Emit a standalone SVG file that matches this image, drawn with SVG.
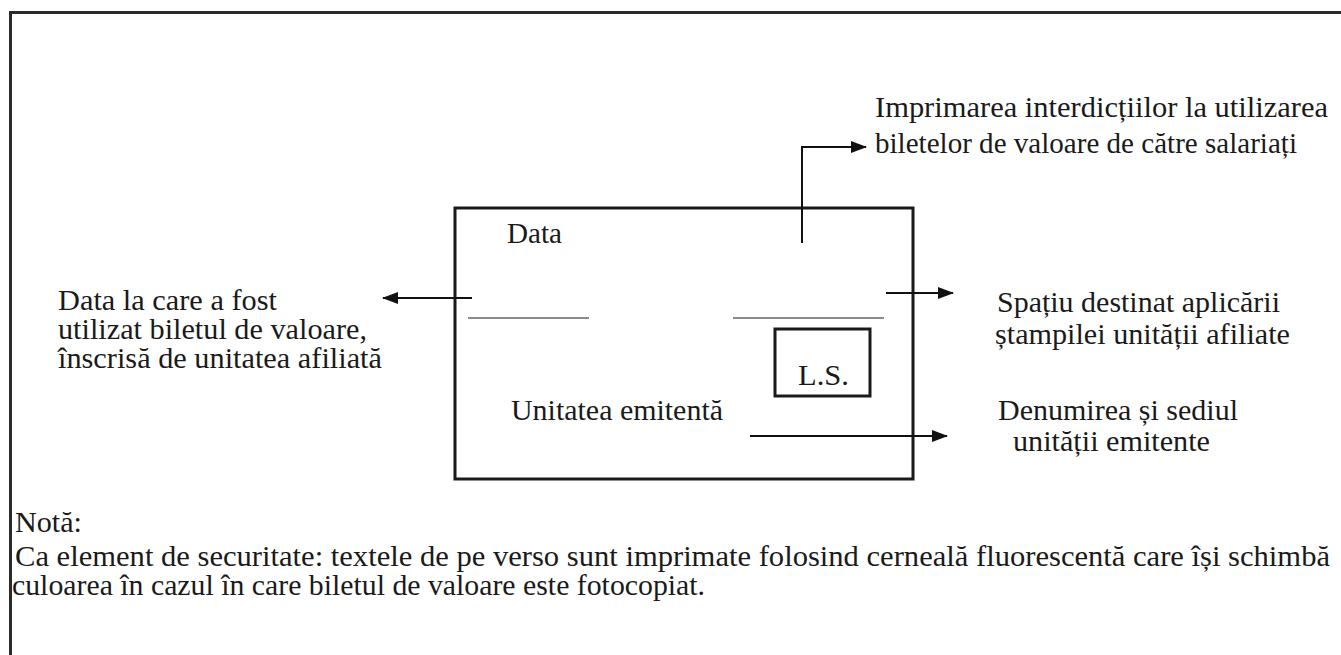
<svg xmlns="http://www.w3.org/2000/svg" width="1341" height="655" viewBox="0 0 1341 655">
<defs>
<style>
text{font-family:'Liberation Serif','Times New Roman',serif;font-size:29px;fill:#1a1a1a}
.ln{stroke:#111;stroke-width:2;fill:none}
.box{stroke:#1a1a1a;stroke-width:3;fill:none}
.gray{stroke:#8a8a8a;stroke-width:2;fill:none}
</style>
<marker id="ah" markerUnits="userSpaceOnUse" markerWidth="16" markerHeight="12" refX="15" refY="6" orient="auto">
<path d="M0,0 L16,6 L0,12 Z" fill="#111"/>
</marker>
</defs>
<rect width="1341" height="655" fill="#fff"/>
<rect id="frame" x="10.5" y="12.5" width="1345" height="660" fill="none" stroke="#2a2a2a" stroke-width="3"/>

<g id="card">
<rect class="box" x="455" y="208" width="458" height="271"/>
<text x="507" y="243" textLength="55" lengthAdjust="spacingAndGlyphs">Data</text>
<line class="gray" x1="468" y1="318" x2="589" y2="318"/>
<line class="gray" x1="733" y1="318" x2="884" y2="318"/>
<text x="511" y="420" textLength="212" lengthAdjust="spacingAndGlyphs">Unitatea emitentă</text>
</g>

<g id="stamp">
<rect class="box" x="775" y="329" width="95" height="67"/>
<text x="798" y="385" textLength="51" lengthAdjust="spacingAndGlyphs">L.S.</text>
</g>

<g id="label-top">
<text x="875" y="117" textLength="453" lengthAdjust="spacingAndGlyphs">Imprimarea interdicțiilor la utilizarea</text>
<text x="875" y="153" textLength="422" lengthAdjust="spacingAndGlyphs">biletelor de valoare de către salariați</text>
</g>

<g id="label-left">
<text x="58" y="310" textLength="219" lengthAdjust="spacingAndGlyphs">Data la care a fost</text>
<text x="58" y="339" textLength="309" lengthAdjust="spacingAndGlyphs">utilizat biletul de valoare,</text>
<text x="58" y="368" textLength="324" lengthAdjust="spacingAndGlyphs">înscrisă de unitatea afiliată</text>
</g>

<g id="label-stamp">
<text x="997" y="312" textLength="283" lengthAdjust="spacingAndGlyphs">Spațiu destinat aplicării</text>
<text x="995" y="344" textLength="295" lengthAdjust="spacingAndGlyphs">ștampilei unității afiliate</text>
</g>

<g id="label-issuer">
<text x="998" y="420" textLength="240" lengthAdjust="spacingAndGlyphs">Denumirea și sediul</text>
<text x="1013" y="451" textLength="197" lengthAdjust="spacingAndGlyphs">unității emitente</text>
</g>

<g id="note">
<text x="15" y="532" textLength="67" lengthAdjust="spacingAndGlyphs">Notă:</text>
<text x="15" y="566" textLength="1315" lengthAdjust="spacingAndGlyphs">Ca element de securitate: textele de pe verso sunt imprimate folosind cerneală fluorescentă care își schimbă</text>
<text x="12" y="595" textLength="693" lengthAdjust="spacingAndGlyphs">culoarea în cazul în care biletul de valoare este fotocopiat.</text>
</g>

<g id="connectors">
<polyline class="ln" points="802,243 802,147 866,147" marker-end="url(#ah)"/>
<line class="ln" x1="472" y1="298" x2="383" y2="298" stroke-width="2.5" marker-end="url(#ah)"/>
<line class="ln" x1="886" y1="293" x2="953" y2="293" marker-end="url(#ah)"/>
<line class="ln" x1="750" y1="436" x2="947" y2="436" marker-end="url(#ah)"/>
<line class="ln" x1="750" y1="436" x2="797" y2="436" stroke-width="3"/>
</g>
</svg>
